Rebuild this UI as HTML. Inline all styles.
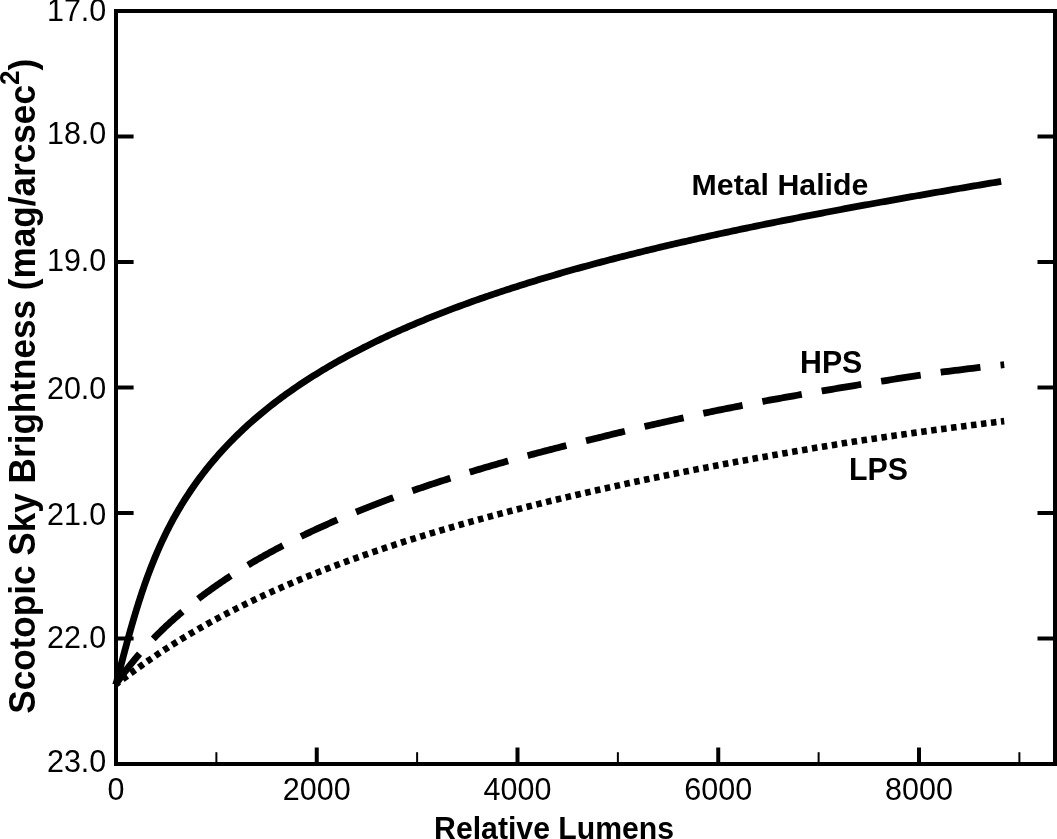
<!DOCTYPE html>
<html><head><meta charset="utf-8"><style>
html,body{margin:0;padding:0;background:#fff;}
svg{display:block;will-change:transform;}
text{font-family:"Liberation Sans",sans-serif;}
</style></head><body>
<svg width="1057" height="839" viewBox="0 0 1057 839">
<rect x="0" y="0" width="1057" height="839" fill="#fff"/>
<g fill="none" stroke="#000" stroke-linecap="butt" stroke-linejoin="round">
<path d="M116.09,684.07 L116.78,681.40 L117.47,678.72 L118.17,676.05 L118.86,673.38 L119.55,670.71 L120.25,668.04 L120.94,665.38 L121.64,662.71 L122.34,660.05 L123.04,657.39 L123.74,654.73 L124.44,652.08 L125.15,649.42 L125.86,646.77 L126.58,644.12 L127.30,641.47 L128.02,638.82 L128.75,636.18 L129.49,633.54 L130.23,630.90 L130.97,628.26 L131.72,625.63 L132.48,623.00 L133.25,620.37 L134.02,617.74 L134.80,615.12 L135.59,612.50 L136.38,609.88 L137.19,607.27 L138.00,604.66 L138.82,602.05 L139.66,599.45 L140.50,596.85 L141.35,594.26 L142.22,591.66 L143.09,589.08 L143.98,586.49 L144.87,583.91 L145.78,581.34 L146.71,578.77 L147.64,576.21 L148.59,573.65 L149.55,571.09 L150.52,568.54 L151.51,566.00 L152.52,563.46 L153.53,560.93 L154.57,558.40 L155.61,555.88 L156.68,553.37 L157.76,550.86 L158.85,548.36 L159.96,545.87 L161.09,543.39 L162.23,540.91 L163.40,538.44 L164.58,535.98 L165.77,533.52 L166.99,531.08 L168.22,528.64 L169.47,526.22 L170.73,523.80 L172.02,521.39 L173.32,518.99 L174.65,516.60 L175.99,514.22 L177.34,511.85 L178.72,509.50 L180.11,507.15 L181.53,504.81 L182.96,502.48 L184.41,500.17 L185.87,497.86 L187.36,495.57 L188.86,493.28 L190.38,491.01 L191.92,488.75 L193.48,486.51 L195.05,484.27 L196.64,482.05 L198.25,479.84 L199.88,477.64 L201.52,475.45 L203.18,473.28 L204.86,471.12 L206.56,468.97 L208.27,466.84 L210.00,464.71 L211.74,462.61 L213.51,460.51 L215.28,458.43 L217.08,456.36 L218.89,454.30 L220.71,452.26 L222.55,450.23 L224.41,448.22 L226.28,446.21 L228.17,444.23 L230.07,442.25 L231.98,440.29 L233.91,438.35 L235.86,436.41 L237.82,434.49 L239.79,432.59 L241.78,430.70 L243.78,428.82 L245.79,426.95 L247.81,425.10 L249.85,423.27 L251.90,421.44 L253.97,419.63 L256.04,417.84 L258.13,416.06 L260.23,414.29 L262.34,412.53 L264.46,410.79 L266.60,409.06 L268.74,407.35 L270.90,405.64 L273.06,403.96 L275.24,402.28 L277.43,400.62 L279.62,398.97 L281.83,397.33 L284.05,395.71 L286.27,394.10 L288.51,392.50 L290.75,390.91 L293.01,389.34 L295.27,387.78 L297.54,386.23 L299.82,384.69 L302.11,383.16 L304.40,381.65 L306.70,380.15 L309.02,378.66 L311.33,377.18 L313.66,375.72 L315.99,374.26 L318.33,372.82 L320.68,371.39 L323.04,369.96 L325.40,368.55 L327.77,367.16 L330.14,365.77 L332.52,364.39 L334.91,363.02 L337.30,361.66 L339.70,360.32 L342.10,358.98 L344.51,357.66 L346.93,356.34 L349.35,355.04 L351.78,353.74 L354.21,352.45 L356.65,351.18 L359.09,349.91 L361.54,348.65 L363.99,347.40 L366.45,346.17 L368.91,344.94 L371.37,343.72 L373.85,342.50 L376.32,341.30 L378.80,340.11 L381.28,338.92 L383.77,337.75 L386.26,336.58 L388.76,335.42 L391.26,334.27 L393.76,333.12 L396.27,331.99 L398.78,330.86 L401.29,329.74 L403.81,328.63 L406.33,327.53 L408.86,326.43 L411.39,325.35 L413.92,324.27 L416.45,323.19 L418.99,322.13 L421.53,321.07 L424.07,320.02 L426.62,318.97 L429.17,317.94 L431.72,316.91 L434.28,315.89 L436.84,314.87 L439.40,313.86 L441.96,312.86 L444.53,311.86 L447.09,310.87 L449.66,309.89 L452.24,308.91 L454.81,307.94 L457.39,306.98 L459.97,306.02 L462.56,305.07 L465.14,304.12 L467.73,303.18 L470.32,302.25 L472.91,301.32 L475.50,300.40 L478.10,299.48 L480.69,298.57 L483.29,297.67 L485.90,296.77 L488.50,295.88 L491.10,294.99 L493.71,294.10 L496.32,293.23 L498.93,292.35 L501.54,291.49 L504.16,290.62 L506.77,289.77 L509.39,288.91 L512.01,288.07 L514.63,287.23 L517.25,286.39 L519.87,285.56 L522.50,284.73 L525.13,283.91 L527.75,283.09 L530.38,282.27 L533.02,281.46 L535.65,280.66 L538.28,279.86 L540.92,279.06 L543.55,278.27 L546.19,277.49 L548.83,276.70 L551.47,275.93 L554.11,275.15 L556.75,274.38 L559.40,273.62 L562.04,272.85 L564.69,272.10 L567.34,271.34 L569.98,270.59 L572.63,269.85 L575.28,269.10 L577.94,268.37 L580.59,267.63 L583.24,266.90 L585.90,266.17 L588.55,265.45 L591.21,264.73 L593.87,264.01 L596.53,263.30 L599.19,262.59 L601.85,261.89 L604.51,261.18 L607.17,260.49 L609.83,259.79 L612.50,259.10 L615.16,258.41 L617.83,257.72 L620.50,257.04 L623.16,256.36 L625.83,255.69 L628.50,255.01 L631.17,254.34 L633.84,253.68 L636.51,253.01 L639.18,252.35 L641.86,251.70 L644.53,251.04 L647.21,250.39 L649.88,249.74 L652.56,249.10 L655.23,248.45 L657.91,247.81 L660.59,247.18 L663.27,246.54 L665.94,245.91 L668.62,245.28 L671.30,244.65 L673.99,244.03 L676.67,243.41 L679.35,242.79 L682.03,242.17 L684.72,241.56 L687.40,240.95 L690.08,240.34 L692.77,239.73 L695.45,239.13 L698.14,238.52 L700.83,237.93 L703.51,237.33 L706.20,236.73 L708.89,236.14 L711.58,235.55 L714.27,234.96 L716.96,234.38 L719.65,233.79 L722.34,233.21 L725.03,232.63 L727.72,232.06 L730.41,231.48 L733.11,230.91 L735.80,230.34 L738.49,229.77 L741.19,229.20 L743.88,228.64 L746.58,228.08 L749.27,227.51 L751.97,226.96 L754.66,226.40 L757.36,225.84 L760.05,225.29 L762.75,224.74 L765.45,224.19 L768.15,223.64 L770.85,223.10 L773.54,222.55 L776.24,222.01 L778.94,221.47 L781.64,220.93 L784.34,220.39 L787.04,219.86 L789.74,219.32 L792.44,218.79 L795.15,218.26 L797.85,217.73 L800.55,217.20 L803.25,216.68 L805.95,216.15 L808.66,215.63 L811.36,215.11 L814.06,214.59 L816.77,214.07 L819.47,213.55 L822.18,213.04 L824.88,212.52 L827.59,212.01 L830.29,211.50 L833.00,210.99 L835.70,210.48 L838.41,209.97 L841.11,209.47 L843.82,208.96 L846.53,208.46 L849.23,207.95 L851.94,207.45 L854.65,206.95 L857.36,206.46 L860.07,205.96 L862.77,205.46 L865.48,204.97 L868.19,204.47 L870.90,203.98 L873.61,203.49 L876.32,203.00 L879.03,202.51 L881.74,202.02 L884.45,201.53 L887.16,201.05 L889.87,200.56 L892.58,200.08 L895.29,199.60 L898.00,199.11 L900.71,198.63 L903.42,198.15 L906.14,197.67 L908.85,197.19 L911.56,196.72 L914.27,196.24 L916.98,195.77 L919.70,195.29 L922.41,194.82 L925.12,194.34 L927.84,193.87 L930.55,193.40 L933.26,192.93 L935.98,192.46 L938.69,191.99 L941.40,191.53 L944.12,191.06 L946.83,190.59 L949.55,190.13 L952.26,189.66 L954.97,189.20 L957.69,188.73 L960.40,188.27 L963.12,187.81 L965.83,187.35 L968.55,186.89 L971.27,186.43 L973.98,185.97 L976.70,185.51 L979.41,185.05 L982.13,184.59 L984.84,184.13 L987.56,183.68 L990.28,183.22 L992.99,182.77 L995.71,182.31 L998.43,181.86 L1001.14,181.40" stroke-width="6.8"/>
<path d="M116.00,684.06 L116.00,684.05 L116.01,684.04 L116.03,684.01 L116.06,683.97 L116.09,683.93 L116.13,683.87 L116.17,683.81 L116.23,683.73 L116.29,683.64 L116.36,683.54 L116.43,683.44 L116.51,683.32 L116.60,683.19 L116.70,683.05 L116.80,682.91 L116.91,682.75 L117.03,682.58 L117.16,682.40 L117.29,682.22 L117.43,682.02 L117.57,681.81 L117.73,681.59 L117.89,681.37 L118.05,681.13 L118.23,680.89 L118.41,680.63 L118.60,680.36 L118.80,680.09 L119.00,679.81 L119.21,679.51 L119.43,679.21 L119.65,678.90 L119.88,678.58 L120.12,678.25 L120.37,677.91 L120.62,677.56 L120.88,677.20 L121.15,676.84 L121.43,676.46 L121.71,676.08 L122.00,675.69 L122.29,675.29 L122.60,674.88 L122.91,674.46 L123.22,674.04 L123.55,673.61 L123.88,673.16 L124.22,672.72 L124.56,672.26 L124.92,671.79 L125.28,671.32 L125.65,670.84 L126.02,670.35 L126.40,669.86 L126.79,669.35 L127.19,668.84 L127.59,668.32 L128.00,667.80 L128.42,667.27 L128.84,666.73 L129.27,666.18 L129.71,665.63 L130.16,665.07 L130.61,664.50 L131.07,663.93 L131.54,663.35 L132.01,662.77 L132.49,662.18 L132.98,661.58 L133.48,660.97 L133.98,660.37 L134.49,659.75 L135.01,659.13 L135.53,658.50 L136.06,657.87 L136.60,657.23 L137.15,656.59 L137.70,655.94 L138.26,655.28 L138.83,654.63 L139.40,653.96 L139.98,653.29 L140.57,652.62 L141.17,651.94 L141.77,651.26 L142.38,650.57 L143.00,649.87 L143.62,649.18 L144.25,648.48 L144.89,647.77 L145.54,647.06 L146.19,646.35 L146.85,645.63 L147.52,644.91 L148.19,644.18 L148.87,643.45 L149.56,642.72 L150.26,641.98 L150.96,641.24 L151.67,640.49 L152.39,639.75 L153.11,639.00 L153.84,638.24 L154.58,637.49 L155.33,636.73 L156.08,635.96 L156.84,635.20 L157.61,634.43 L158.38,633.66 L159.16,632.88 L159.95,632.10 L160.75,631.33 L161.55,630.54 L162.36,629.76 L163.17,628.97 L164.00,628.18 L164.83,627.39 L165.67,626.60 L166.51,625.80 L167.37,625.00 L168.23,624.20 L169.09,623.40 L169.97,622.60 L170.85,621.79 L171.74,620.99 L172.63,620.18 L173.53,619.37 L174.44,618.56 L175.36,617.74 L176.28,616.93 L177.21,616.11 L178.15,615.30 L179.10,614.48 L180.05,613.66 L181.01,612.84 L181.98,612.01 L182.95,611.19 L183.93,610.37 L184.92,609.54 L185.91,608.71 L186.92,607.89 L187.93,607.06 L188.94,606.23 L189.97,605.40 L191.00,604.57 L192.04,603.74 L193.08,602.91 L194.13,602.07 L195.19,601.24 L196.26,600.41 L197.33,599.57 L198.41,598.74 L199.50,597.91 L200.60,597.07 L201.70,596.24 L202.81,595.40 L203.92,594.57 L205.05,593.73 L206.18,592.89 L207.32,592.06 L208.46,591.22 L209.61,590.38 L210.77,589.55 L211.94,588.71 L213.11,587.88 L214.29,587.04 L215.48,586.20 L216.68,585.37 L217.88,584.53 L219.09,583.70 L220.30,582.86 L221.53,582.03 L222.76,581.19 L224.00,580.36 L225.24,579.52 L226.49,578.69 L227.75,577.85 L229.02,577.02 L230.29,576.19 L231.57,575.36 L232.86,574.52 L234.16,573.69 L235.46,572.86 L236.77,572.03 L238.08,571.20 L239.41,570.37 L240.74,569.54 L242.07,568.71 L243.42,567.89 L244.77,567.06 L246.13,566.23 L247.50,565.41 L248.87,564.58 L250.25,563.76 L251.64,562.94 L253.03,562.11 L254.43,561.29 L255.84,560.47 L257.26,559.65 L258.68,558.83 L260.11,558.01 L261.55,557.19 L262.99,556.38 L264.45,555.56 L265.91,554.75 L267.37,553.93 L268.84,553.12 L270.33,552.31 L271.81,551.49 L273.31,550.68 L274.81,549.87 L276.32,549.07 L277.83,548.26 L279.36,547.45 L280.89,546.65 L282.42,545.84 L283.97,545.04 L285.52,544.23 L287.08,543.43 L288.65,542.63 L290.22,541.83 L291.80,541.04 L293.39,540.24 L294.98,539.44 L296.58,538.65 L298.19,537.85 L299.81,537.06 L301.43,536.27 L303.06,535.48 L304.70,534.69 L306.34,533.90 L307.99,533.11 L309.65,532.33 L311.32,531.54 L312.99,530.76 L314.67,529.97 L316.36,529.19 L318.05,528.41 L319.75,527.63 L321.46,526.86 L323.18,526.08 L324.90,525.30 L326.63,524.53 L328.37,523.76 L330.11,522.98 L331.86,522.21 L333.62,521.44 L335.39,520.68 L337.16,519.91 L338.94,519.14 L340.73,518.38 L342.52,517.62 L344.32,516.85 L346.13,516.09 L347.95,515.33 L349.77,514.58 L351.60,513.82 L353.44,513.06 L355.28,512.31 L357.13,511.55 L358.99,510.80 L360.86,510.05 L362.73,509.30 L364.61,508.55 L366.50,507.81 L368.39,507.06 L370.29,506.32 L372.20,505.57 L374.12,504.83 L376.04,504.09 L377.97,503.35 L379.90,502.61 L381.85,501.88 L383.80,501.14 L385.76,500.41 L387.72,499.68 L389.70,498.94 L391.68,498.21 L393.66,497.48 L395.66,496.76 L397.66,496.03 L399.67,495.31 L401.68,494.58 L403.70,493.86 L405.73,493.14 L407.77,492.42 L409.81,491.70 L411.87,490.98 L413.92,490.27 L415.99,489.55 L418.06,488.84 L420.14,488.12 L422.23,487.41 L424.32,486.70 L426.42,485.99 L428.53,485.29 L430.65,484.58 L432.77,483.88 L434.90,483.17 L437.03,482.47 L439.18,481.77 L441.33,481.07 L443.49,480.37 L445.65,479.68 L447.83,478.98 L450.00,478.29 L452.19,477.59 L454.39,476.90 L456.59,476.21 L458.79,475.52 L461.01,474.83 L463.23,474.14 L465.46,473.46 L467.70,472.77 L469.94,472.09 L472.19,471.41 L474.45,470.73 L476.71,470.05 L478.99,469.37 L481.27,468.69 L483.55,468.02 L485.85,467.34 L488.15,466.67 L490.46,466.00 L492.77,465.33 L495.09,464.66 L497.42,463.99 L499.76,463.32 L502.10,462.66 L504.45,461.99 L506.81,461.33 L509.17,460.67 L511.55,460.01 L513.93,459.35 L516.31,458.69 L518.71,458.03 L521.11,457.38 L523.51,456.72 L525.93,456.07 L528.35,455.41 L530.78,454.76 L533.22,454.11 L535.66,453.46 L538.11,452.82 L540.57,452.17 L543.03,451.52 L545.51,450.88 L547.98,450.24 L550.47,449.60 L552.96,448.96 L555.46,448.32 L557.97,447.68 L560.49,447.04 L563.01,446.41 L565.54,445.77 L568.07,445.14 L570.62,444.50 L573.17,443.87 L575.73,443.24 L578.29,442.61 L580.86,441.99 L583.44,441.36 L586.03,440.73 L588.62,440.11 L591.22,439.49 L593.83,438.87 L596.44,438.24 L599.06,437.62 L601.69,436.98 L604.33,436.31 L606.97,435.65 L609.62,434.98 L612.28,434.32 L614.95,433.66 L617.62,433.00 L620.30,432.34 L622.98,431.68 L625.67,431.02 L628.38,430.37 L631.08,429.71 L633.80,429.06 L636.52,428.40 L639.25,427.75 L641.98,427.10 L644.73,426.45 L647.48,425.83 L650.23,425.20 L653.00,424.57 L655.77,423.95 L658.55,423.33 L661.33,422.70 L664.13,422.08 L666.93,421.46 L669.74,420.84 L672.55,420.23 L675.37,419.61 L678.20,418.99 L681.04,418.38 L683.88,417.76 L686.73,417.10 L689.59,416.45 L692.45,415.79 L695.32,415.13 L698.20,414.47 L701.09,413.82 L703.98,413.18 L706.88,412.58 L709.79,411.98 L712.70,411.39 L715.62,410.79 L718.55,410.19 L721.49,409.60 L724.43,409.01 L727.38,408.41 L730.34,407.82 L733.30,407.23 L736.27,406.64 L739.25,406.05 L742.24,405.46 L745.23,404.87 L748.23,404.28 L751.24,403.68 L754.25,403.09 L757.27,402.50 L760.30,401.90 L763.33,401.33 L766.38,400.77 L769.43,400.21 L772.48,399.66 L775.55,399.10 L778.62,398.55 L781.70,398.00 L784.78,397.45 L787.88,396.89 L790.98,396.34 L794.08,395.80 L797.20,395.25 L800.32,394.70 L803.45,394.15 L806.58,393.61 L809.72,393.07 L812.87,392.52 L816.03,391.98 L819.19,391.44 L822.37,390.90 L825.54,390.36 L828.73,389.82 L831.92,389.28 L835.12,388.75 L838.33,388.21 L841.54,387.67 L844.76,387.14 L847.99,386.61 L851.23,386.07 L854.47,385.54 L857.72,385.01 L860.98,384.48 L864.24,383.95 L867.51,383.43 L870.79,382.90 L874.07,382.37 L877.37,381.85 L880.67,381.33 L883.97,380.80 L887.29,380.28 L890.61,379.76 L893.94,379.24 L897.27,378.72 L900.61,378.20 L903.96,377.68 L907.32,377.16 L910.68,376.65 L914.05,376.13 L917.43,375.62 L920.82,375.11 L924.21,374.62 L927.61,374.14 L931.01,373.65 L934.43,373.17 L937.85,372.69 L941.28,372.21 L944.71,371.73 L948.15,371.29 L951.60,370.86 L955.06,370.44 L958.52,370.01 L961.99,369.58 L965.47,369.16 L968.96,368.73 L972.45,368.31 L975.95,367.89 L979.46,367.46 L982.97,367.05 L986.49,366.64 L990.02,366.24 L993.55,365.83 L997.09,365.43 L1000.64,365.03 L1004.20,364.62" stroke-width="6.8" stroke-dasharray="40 20.24" stroke-dashoffset="1.61"/>
<path d="M116.00,684.06 L116.00,684.05 L116.01,684.05 L116.03,684.04 L116.06,684.02 L116.09,684.00 L116.13,683.98 L116.17,683.95 L116.23,683.91 L116.29,683.87 L116.36,683.83 L116.43,683.78 L116.51,683.72 L116.60,683.66 L116.70,683.59 L116.80,683.52 L116.91,683.45 L117.03,683.36 L117.16,683.28 L117.29,683.18 L117.43,683.08 L117.57,682.98 L117.73,682.87 L117.89,682.76 L118.05,682.64 L118.23,682.51 L118.41,682.38 L118.60,682.24 L118.80,682.10 L119.00,681.95 L119.21,681.80 L119.43,681.64 L119.65,681.47 L119.88,681.30 L120.12,681.13 L120.37,680.95 L120.62,680.76 L120.88,680.57 L121.15,680.37 L121.43,680.17 L121.71,679.96 L122.00,679.75 L122.29,679.53 L122.60,679.31 L122.91,679.08 L123.22,678.84 L123.55,678.60 L123.88,678.35 L124.22,678.10 L124.56,677.85 L124.92,677.58 L125.28,677.32 L125.65,677.05 L126.02,676.77 L126.40,676.49 L126.79,676.20 L127.19,675.90 L127.59,675.61 L128.00,675.30 L128.42,674.99 L128.84,674.68 L129.27,674.36 L129.71,674.04 L130.16,673.71 L130.61,673.38 L131.07,673.04 L131.54,672.70 L132.01,672.35 L132.49,672.00 L132.98,671.64 L133.48,671.28 L133.98,670.91 L134.49,670.54 L135.01,670.16 L135.53,669.78 L136.06,669.40 L136.60,669.01 L137.15,668.61 L137.70,668.21 L138.26,667.81 L138.83,667.40 L139.40,666.99 L139.98,666.58 L140.57,666.16 L141.17,665.73 L141.77,665.30 L142.38,664.87 L143.00,664.43 L143.62,663.99 L144.25,663.54 L144.89,663.09 L145.54,662.64 L146.19,662.18 L146.85,661.72 L147.52,661.26 L148.19,660.79 L148.87,660.32 L149.56,659.84 L150.26,659.36 L150.96,658.87 L151.67,658.39 L152.39,657.90 L153.11,657.40 L153.84,656.90 L154.58,656.40 L155.33,655.90 L156.08,655.39 L156.84,654.88 L157.61,654.36 L158.38,653.84 L159.16,653.32 L159.95,652.80 L160.75,652.27 L161.55,651.74 L162.36,651.20 L163.17,650.67 L164.00,650.13 L164.83,649.58 L165.67,649.04 L166.51,648.49 L167.37,647.94 L168.23,647.38 L169.09,646.83 L169.97,646.27 L170.85,645.70 L171.74,645.14 L172.63,644.57 L173.53,644.00 L174.44,643.43 L175.36,642.85 L176.28,642.27 L177.21,641.69 L178.15,641.11 L179.10,640.53 L180.05,639.94 L181.01,639.35 L181.98,638.76 L182.95,638.17 L183.93,637.57 L184.92,636.97 L185.91,636.37 L186.92,635.77 L187.93,635.17 L188.94,634.56 L189.97,633.95 L191.00,633.34 L192.04,632.73 L193.08,632.12 L194.13,631.50 L195.19,630.88 L196.26,630.27 L197.33,629.65 L198.41,629.02 L199.50,628.40 L200.60,627.77 L201.70,627.15 L202.81,626.52 L203.92,625.89 L205.05,625.26 L206.18,624.62 L207.32,623.99 L208.46,623.35 L209.61,622.72 L210.77,622.08 L211.94,621.44 L213.11,620.80 L214.29,620.16 L215.48,619.51 L216.68,618.87 L217.88,618.22 L219.09,617.58 L220.30,616.93 L221.53,616.28 L222.76,615.63 L224.00,614.98 L225.24,614.33 L226.49,613.68 L227.75,613.02 L229.02,612.37 L230.29,611.71 L231.57,611.06 L232.86,610.40 L234.16,609.74 L235.46,609.08 L236.77,608.42 L238.08,607.76 L239.41,607.10 L240.74,606.44 L242.07,605.78 L243.42,605.12 L244.77,604.45 L246.13,603.79 L247.50,603.12 L248.87,602.46 L250.25,601.79 L251.64,601.13 L253.03,600.46 L254.43,599.79 L255.84,599.13 L257.26,598.46 L258.68,597.79 L260.11,597.12 L261.55,596.45 L262.99,595.78 L264.45,595.11 L265.91,594.44 L267.37,593.77 L268.84,593.10 L270.33,592.43 L271.81,591.76 L273.31,591.09 L274.81,590.42 L276.32,589.75 L277.83,589.08 L279.36,588.41 L280.89,587.73 L282.42,587.06 L283.97,586.39 L285.52,585.72 L287.08,585.05 L288.65,584.37 L290.22,583.70 L291.80,583.03 L293.39,582.36 L294.98,581.69 L296.58,581.01 L298.19,580.34 L299.81,579.67 L301.43,579.00 L303.06,578.33 L304.70,577.66 L306.34,576.98 L307.99,576.31 L309.65,575.64 L311.32,574.97 L312.99,574.30 L314.67,573.63 L316.36,572.96 L318.05,572.29 L319.75,571.62 L321.46,570.95 L323.18,570.28 L324.90,569.61 L326.63,568.94 L328.37,568.27 L330.11,567.60 L331.86,566.94 L333.62,566.27 L335.39,565.60 L337.16,564.93 L338.94,564.27 L340.73,563.60 L342.52,562.93 L344.32,562.27 L346.13,561.60 L347.95,560.94 L349.77,560.27 L351.60,559.61 L353.44,558.94 L355.28,558.28 L357.13,557.62 L358.99,556.96 L360.86,556.29 L362.73,555.63 L364.61,554.97 L366.50,554.31 L368.39,553.65 L370.29,552.99 L372.20,552.33 L374.12,551.67 L376.04,551.01 L377.97,550.36 L379.90,549.70 L381.85,549.04 L383.80,548.39 L385.76,547.73 L387.72,547.08 L389.70,546.42 L391.68,545.77 L393.66,545.12 L395.66,544.46 L397.66,543.81 L399.67,543.16 L401.68,542.51 L403.70,541.86 L405.73,541.21 L407.77,540.56 L409.81,539.91 L411.87,539.26 L413.92,538.62 L415.99,537.97 L418.06,537.32 L420.14,536.68 L422.23,536.03 L424.32,535.39 L426.42,534.74 L428.53,534.10 L430.65,533.46 L432.77,532.82 L434.90,532.18 L437.03,531.54 L439.18,530.90 L441.33,530.26 L443.49,529.62 L445.65,528.98 L447.83,528.35 L450.00,527.71 L452.19,527.08 L454.39,526.44 L456.59,525.81 L458.79,525.17 L461.01,524.54 L463.23,523.91 L465.46,523.28 L467.70,522.65 L469.94,522.02 L472.19,521.39 L474.45,520.76 L476.71,520.13 L478.99,519.51 L481.27,518.88 L483.55,518.26 L485.85,517.63 L488.15,517.01 L490.46,516.39 L492.77,515.76 L495.09,515.14 L497.42,514.52 L499.76,513.90 L502.10,513.28 L504.45,512.66 L506.81,512.05 L509.17,511.43 L511.55,510.81 L513.93,510.20 L516.31,509.58 L518.71,508.97 L521.11,508.36 L523.51,507.74 L525.93,507.13 L528.35,506.52 L530.78,505.91 L533.22,505.30 L535.66,504.69 L538.11,504.09 L540.57,503.48 L543.03,502.87 L545.51,502.27 L547.98,501.66 L550.47,501.06 L552.96,500.46 L555.46,499.85 L557.97,499.25 L560.49,498.65 L563.01,498.05 L565.54,497.45 L568.07,496.85 L570.62,496.26 L573.17,495.66 L575.73,495.06 L578.29,494.47 L580.86,493.88 L583.44,493.28 L586.03,492.69 L588.62,492.10 L591.22,491.51 L593.83,490.92 L596.44,490.33 L599.06,489.74 L601.69,489.15 L604.33,488.56 L606.97,487.98 L609.62,487.39 L612.28,486.81 L614.95,486.22 L617.62,485.64 L620.30,485.06 L622.98,484.47 L625.67,483.89 L628.38,483.31 L631.08,482.73 L633.80,482.16 L636.52,481.58 L639.25,481.00 L641.98,480.43 L644.73,479.85 L647.48,479.28 L650.23,478.70 L653.00,478.13 L655.77,477.56 L658.55,476.99 L661.33,476.42 L664.13,475.85 L666.93,475.28 L669.74,474.71 L672.55,474.14 L675.37,473.58 L678.20,473.01 L681.04,472.45 L683.88,471.88 L686.73,471.32 L689.59,470.76 L692.45,470.19 L695.32,469.63 L698.20,469.07 L701.09,468.51 L703.98,467.95 L706.88,467.40 L709.79,466.84 L712.70,466.28 L715.62,465.73 L718.55,465.17 L721.49,464.62 L724.43,464.07 L727.38,463.51 L730.34,462.96 L733.30,462.41 L736.27,461.86 L739.25,461.31 L742.24,460.76 L745.23,460.22 L748.23,459.67 L751.24,459.12 L754.25,458.58 L757.27,458.03 L760.30,457.49 L763.33,456.95 L766.38,456.40 L769.43,455.86 L772.48,455.32 L775.55,454.78 L778.62,454.24 L781.70,453.71 L784.78,453.17 L787.88,452.63 L790.98,452.09 L794.08,451.56 L797.20,451.02 L800.32,450.49 L803.45,449.96 L806.58,449.43 L809.72,448.89 L812.87,448.36 L816.03,447.83 L819.19,447.30 L822.37,446.78 L825.54,446.25 L828.73,445.72 L831.92,445.19 L835.12,444.67 L838.33,444.14 L841.54,443.62 L844.76,443.10 L847.99,442.57 L851.23,442.06 L854.47,441.57 L857.72,441.08 L860.98,440.60 L864.24,440.11 L867.51,439.62 L870.79,439.14 L874.07,438.65 L877.37,438.17 L880.67,437.68 L883.97,437.20 L887.29,436.72 L890.61,436.24 L893.94,435.75 L897.27,435.28 L900.61,434.80 L903.96,434.32 L907.32,433.84 L910.68,433.36 L914.05,432.89 L917.43,432.41 L920.82,431.94 L924.21,431.47 L927.61,430.99 L931.01,430.52 L934.43,430.05 L937.85,429.60 L941.28,429.14 L944.71,428.69 L948.15,428.24 L951.60,427.79 L955.06,427.34 L958.52,426.89 L961.99,426.44 L965.47,425.99 L968.96,425.55 L972.45,425.10 L975.95,424.66 L979.46,424.21 L982.97,423.77 L986.49,423.33 L990.02,422.88 L993.55,422.44 L997.09,422.00 L1000.64,421.56 L1004.20,421.12" stroke-width="6.6" stroke-dasharray="5.5 4.5475" stroke-dashoffset="1.778"/>
</g>
<g stroke="#000" stroke-width="4" fill="none">
<rect x="116" y="11" width="939" height="753" stroke-linejoin="miter"/>
<line x1="116" y1="136.5" x2="133.6" y2="136.5"/><line x1="1037.5" y1="136.5" x2="1055" y2="136.5"/><line x1="116" y1="262.0" x2="133.6" y2="262.0"/><line x1="1037.5" y1="262.0" x2="1055" y2="262.0"/><line x1="116" y1="387.5" x2="133.6" y2="387.5"/><line x1="1037.5" y1="387.5" x2="1055" y2="387.5"/><line x1="116" y1="513.0" x2="133.6" y2="513.0"/><line x1="1037.5" y1="513.0" x2="1055" y2="513.0"/><line x1="116" y1="638.5" x2="133.6" y2="638.5"/><line x1="1037.5" y1="638.5" x2="1055" y2="638.5"/><line x1="216.38" y1="752.2" x2="216.38" y2="764" stroke-width="2"/><line x1="316.75" y1="747.5" x2="316.75" y2="764"/><line x1="417.12" y1="752.2" x2="417.12" y2="764" stroke-width="2"/><line x1="517.50" y1="747.5" x2="517.50" y2="764"/><line x1="617.88" y1="752.2" x2="617.88" y2="764" stroke-width="2"/><line x1="718.25" y1="747.5" x2="718.25" y2="764"/><line x1="818.62" y1="752.2" x2="818.62" y2="764" stroke-width="2"/><line x1="919.00" y1="747.5" x2="919.00" y2="764"/><line x1="1019.38" y1="752.2" x2="1019.38" y2="764" stroke-width="2"/>
</g>
<g font-size="30.5" fill="#000">
<text x="106.3" y="21.0" text-anchor="end">17.0</text><text x="106.3" y="144.3" text-anchor="end">18.0</text><text x="106.3" y="271.2" text-anchor="end">19.0</text><text x="106.3" y="399.2" text-anchor="end">20.0</text><text x="106.3" y="524.5" text-anchor="end">21.0</text><text x="106.3" y="648.2" text-anchor="end">22.0</text><text x="106.3" y="772.0" text-anchor="end">23.0</text>
</g>
<g font-size="30.5" fill="#000">
<text x="116.00" y="799.6" text-anchor="middle">0</text><text x="316.75" y="799.6" text-anchor="middle">2000</text><text x="517.50" y="799.6" text-anchor="middle">4000</text><text x="718.25" y="799.6" text-anchor="middle">6000</text><text x="919.00" y="799.6" text-anchor="middle">8000</text>
</g>
<g font-weight="bold" fill="#000">
<text transform="translate(434.1,838.5) scale(1,1.04)" font-size="30" textLength="240" lengthAdjust="spacingAndGlyphs">Relative Lumens</text>
<text x="691.6" y="195" font-size="30.3">Metal Halide</text>
<text transform="translate(800,373) scale(1,1.04)" font-size="30.3">HPS</text>
<text transform="translate(849,480) scale(1,1.04)" font-size="30.3">LPS</text>
<text transform="translate(34.8,713.8) rotate(-90) scale(1,1.04)" font-size="35.15">Scotopic Sky Brightness (mag/arcsec<tspan font-size="26" dy="-15.5">2</tspan><tspan dy="15.5">)</tspan></text>
</g>
</svg>
</body></html>
